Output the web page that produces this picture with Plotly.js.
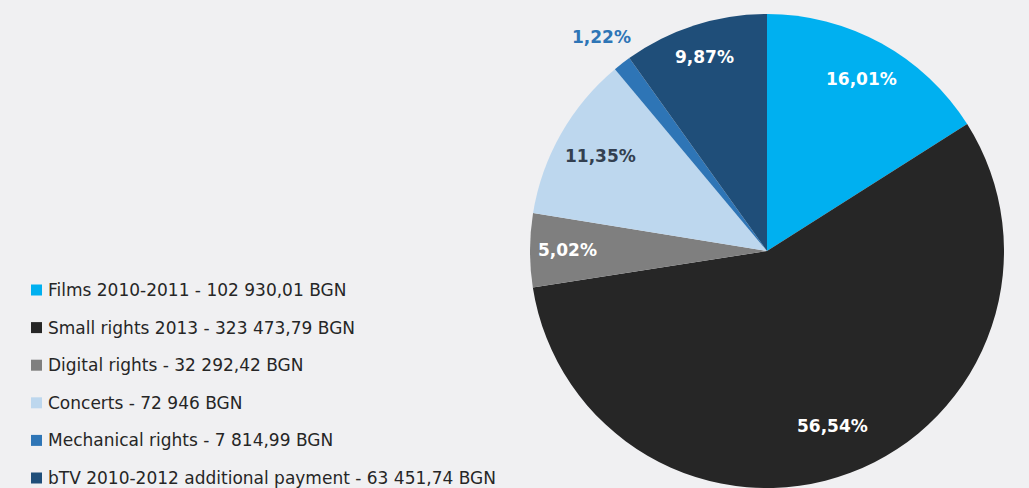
<!DOCTYPE html>
<html>
<head>
<meta charset="utf-8">
<script src="https://cdn.plot.ly/plotly-3.0.1.min.js"></script>
<style>html,body{margin:0;padding:0;background:#f0f0f2;}#chart{width:1029px;height:488px;}</style>
</head>
<body>
<div id="chart"></div>
<script>
var categories = ['Films 2010-2011', 'Small rights 2013', 'Digital rights', 'Concerts', 'Mechanical rights', 'bTV 2010-2012 additional payment'];
var amounts = [102930.01, 323473.79, 32292.42, 72946, 7814.99, 63451.74];
var percents = [16.01, 56.54, 5.02, 11.35, 1.22, 9.87];
var colors = ['#00b0f0', '#262626', '#7f7f7f', '#bdd7ee', '#2e75b6', '#1f4e79'];
var textColors = ['#ffffff', '#ffffff', '#ffffff', '#333f50', '#2e75b6', '#ffffff'];
var labelRadius = [0.83, 0.79, 0.84, 0.81, 1.14, 0.86];

var W = 1029, H = 488;
var domX = [530 / W, 1004 / W], domY = [0, 1 - 14 / H];

function fmtAmount(v) {
  var parts = (Math.round(v * 100) / 100).toString().split('.');
  var intPart = parts[0].replace(/\B(?=(\d{3})+(?!\d))/g, ' ');
  if (parts.length > 1) {
    var dec = (parts[1] + '00').slice(0, 2);
    return intPart + ',' + dec;
  }
  return intPart;
}
function fmtPct(v) { return v.toFixed(2).replace('.', ',') + '%'; }

var trace = {
  type: 'pie',
  labels: categories,
  values: percents,
  sort: false,
  direction: 'clockwise',
  rotation: 0,
  marker: {colors: colors, line: {width: 0}},
  textinfo: 'none',
  hoverinfo: 'label+percent',
  domain: {x: domX, y: domY},
  showlegend: false
};

var annotations = [];
var shapes = [];

// slice labels placed at each slice's mid-angle
var total = percents.reduce(function (a, b) { return a + b; }, 0);
var cxPx = (domX[0] + domX[1]) / 2 * W;
var cyPx = (1 - (domY[0] + domY[1]) / 2) * H;
var rPx = Math.min((domX[1] - domX[0]) * W, (domY[1] - domY[0]) * H) / 2;
var cum = 0;
for (var k = 0; k < percents.length; k++) {
  var mid = (cum + percents[k] / 2) / total * 2 * Math.PI;
  cum += percents[k];
  var px = cxPx + labelRadius[k] * rPx * Math.sin(mid);
  var py = cyPx - labelRadius[k] * rPx * Math.cos(mid);
  annotations.push({
    xref: 'paper', yref: 'paper', x: px / W, y: 1 - py / H,
    xanchor: 'center', yanchor: 'middle', showarrow: false,
    text: '<b>' + fmtPct(percents[k]) + '</b>',
    font: {family: 'DejaVu Sans', size: 17, color: textColors[k]}
  });
}

// legend
var rowTop = 290, rowGap = 37.6;
for (var i = 0; i < categories.length; i++) {
  var yc = rowTop + i * rowGap;
  annotations.push({
    xref: 'paper', yref: 'paper',
    x: 46 / W, y: 1 - yc / H,
    xanchor: 'left', yanchor: 'middle',
    text: categories[i] + ' - ' + fmtAmount(amounts[i]) + ' BGN',
    showarrow: false,
    font: {family: 'DejaVu Sans', size: 17, color: '#262626'}
  });
  shapes.push({
    type: 'rect', xref: 'paper', yref: 'paper',
    x0: 31 / W, x1: 42 / W,
    y0: 1 - (yc + 5.5) / H, y1: 1 - (yc - 5.5) / H,
    fillcolor: colors[i], line: {width: 0}
  });
}

var layout = {
  width: W, height: H,
  margin: {l: 0, r: 0, t: 0, b: 0},
  paper_bgcolor: '#f0f0f2',
  plot_bgcolor: '#f0f0f2',
  annotations: annotations,
  shapes: shapes,
  showlegend: false
};

Plotly.newPlot('chart', [trace], layout, {displayModeBar: false, staticPlot: true});
</script>
</body>
</html>
